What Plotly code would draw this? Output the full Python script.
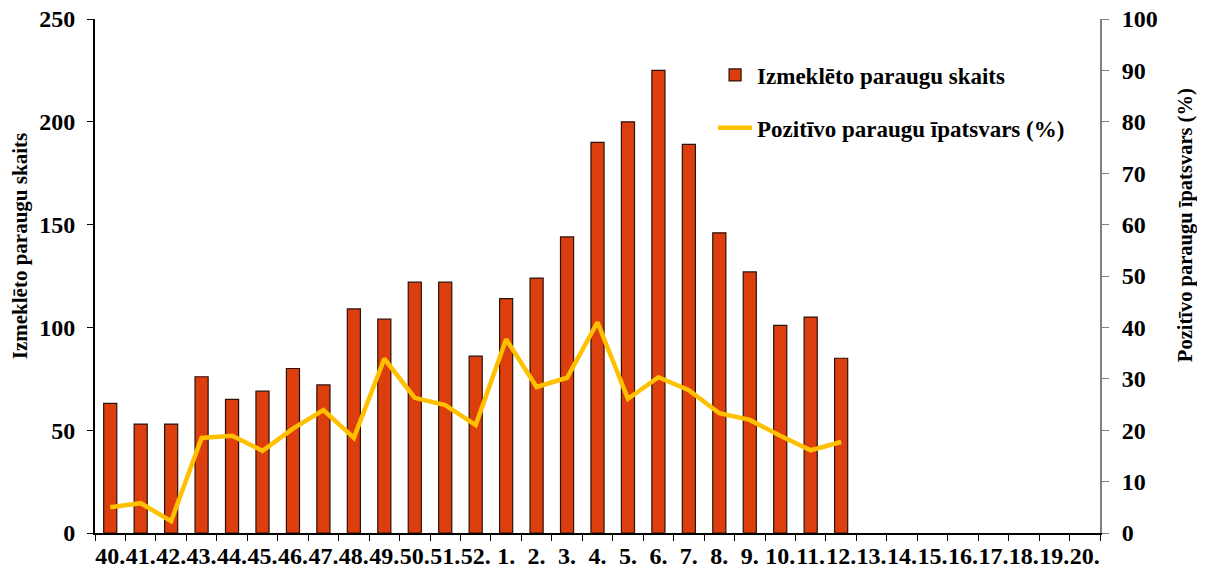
import plotly.graph_objects as go

weeks = ["40.", "41.", "42.", "43.", "44.", "45.", "46.", "47.", "48.", "49.", "50.", "51.", "52.",
         "1.", "2.", "3.", "4.", "5.", "6.", "7.", "8.", "9.", "10.", "11.", "12.",
         "13.", "14.", "15.", "16.", "17.", "18.", "19.", "20."]
samples = [63, 53, 53, 76, 65, 69, 80, 72, 109, 104, 122, 122, 86,
           114, 124, 144, 190, 200, 225, 189, 146, 127, 101, 105, 85]
positive_pct = [5.0, 5.8, 2.3, 18.5, 18.9, 16.0, 20.3, 23.9, 18.5, 33.9, 26.3, 24.9, 21.0,
                37.7, 28.4, 30.2, 41.0, 26.1, 30.3, 27.8, 23.3, 22.0, 18.9, 16.1, 17.7]
left_title = "Izmeklēto paraugu skaits"
right_title = "Pozitīvo paraugu īpatsvars (%)"

FONT = "Liberation Serif"

fig = go.Figure()
fig.add_trace(go.Bar(
    x=weeks[:len(samples)], y=samples, name=left_title,
    marker=dict(color="#DD3E0E", line=dict(color="#2a1208", width=1.2)),
    width=0.43, legendgroup="a",
))
fig.add_trace(go.Scatter(
    x=weeks[:len(positive_pct)], y=positive_pct, name=right_title,
    mode="lines", line=dict(color="#FFC000", width=4.5), yaxis="y2", legendgroup="b",
))

fig.update_layout(
    width=1197, height=573,
    margin=dict(l=87, r=105, t=11, b=48, autoexpand=False),
    paper_bgcolor="white", plot_bgcolor="white",
    font=dict(family=FONT, size=20, color="black", weight="bold"),
    showlegend=True,
    legend=dict(x=0.615, y=0.933, xanchor="left", yanchor="top",
                font=dict(family=FONT, size=23, weight="bold"),
                tracegroupgap=20, bgcolor="rgba(0,0,0,0)", traceorder="grouped",
                itemwidth=34),
    xaxis=dict(
        type="category", categoryorder="array", categoryarray=weeks,
        range=[-0.5, len(weeks) - 0.5],
        showline=True, linecolor="black", linewidth=2,
        ticks="outside", tickson="boundaries", ticklen=6, tickcolor="black",
        tickangle=0, automargin=False, ticklabeloverflow="allow",
        tickfont=dict(family=FONT, size=24, weight="bold"),
        showgrid=False, zeroline=False,
    ),
    yaxis=dict(
        range=[0, 250], dtick=50, automargin=False, ticklabeloverflow="allow",
        showline=True, linecolor="black", linewidth=2,
        ticks="outside", ticklen=6, tickcolor="black", ticklabelstandoff=7,
        showgrid=False, zeroline=False,
        tickfont=dict(family=FONT, size=24, weight="bold"),
    ),
    yaxis2=dict(
        range=[0, 100], dtick=10, overlaying="y", side="right", automargin=False,
        ticklabeloverflow="allow", ticklabelstandoff=8,
        showline=True, linecolor="#808080", linewidth=2,
        ticks="outside", ticklen=7, tickcolor="#808080",
        showgrid=False, zeroline=False,
        tickfont=dict(family=FONT, size=24, weight="bold"),
    ),
    annotations=[
        dict(text=left_title, xref="paper", yref="paper", x=-0.0746, y=0.558,
             xanchor="center", yanchor="middle", textangle=-90, showarrow=False,
             font=dict(family=FONT, size=21, weight="bold")),
        dict(text=right_title, xref="paper", yref="paper", x=1.0846, y=0.599,
             xanchor="center", yanchor="middle", textangle=-90, showarrow=False,
             font=dict(family=FONT, size=20.5, weight="bold")),
    ],
)

fig.write_html("out.html")
